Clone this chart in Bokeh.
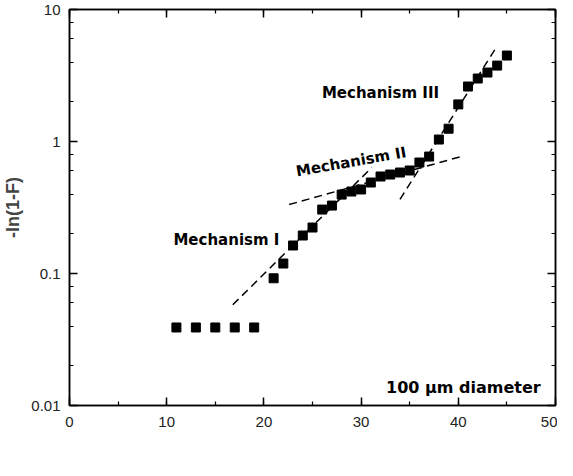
from bokeh.plotting import figure
from bokeh.models import (LinearAxis, LogAxis, SingleIntervalTicker, LogTicker, Label,
                          NumeralTickFormatter, Range1d, ColumnDataSource, CustomJSTickFormatter)
from bokeh.embed import file_html
from bokeh.resources import INLINE
import math

# ---- data ----
vg_v = [11, 13, 15, 17, 19, 21, 22, 23, 24, 25, 26, 27, 28, 29, 30, 31, 32, 33, 34, 35,
        36, 37, 38, 39, 40, 41, 42, 43, 44, 45]
ln_f = [0.039, 0.039, 0.039, 0.039, 0.039, 0.092, 0.119, 0.163, 0.194, 0.223, 0.305, 0.327,
        0.396, 0.418, 0.433, 0.489, 0.543, 0.562, 0.582, 0.603, 0.693, 0.769, 1.035, 1.25,
        1.91, 2.61, 3.0, 3.33, 3.76, 4.48]

fit1_x = [16.8, 31.1]
fit1_y = [0.058, 0.635]
fit2_x = [22.6, 40.3]
fit2_y = [0.333, 0.77]
fit3_x = [34.0, 43.9]
fit3_y = [0.364, 5.15]

x_ticks_interval = 10
x_lo, x_hi = 0, 50
y_lo, y_hi = 0.01, 10

# frame geometry (page pixels) used to place the free texts
FL, FR, FT, FB = 72, 563, 17, 413
PAGE = 8


def dx(px):
    return x_lo + (px - FL) / (FR - FL) * (x_hi - x_lo)


def dy(py):
    return 10 ** (math.log10(y_lo) + (FB - py) / (FB - FT) * (math.log10(y_hi) - math.log10(y_lo)))


W, H = 557, 460
p = figure(width=W, height=H, y_axis_type="log",
           x_range=Range1d(x_lo, x_hi), y_range=Range1d(y_lo, y_hi),
           output_backend="svg", toolbar_location=None,
           min_border_left=FL - PAGE, min_border_right=W - (FR - PAGE),
           min_border_top=FT - PAGE, min_border_bottom=H - (FB - PAGE))
p.grid.visible = False
p.outline_line_color = "black"
p.outline_line_width = 1.5
p.background_fill_color = "white"
p.border_fill_color = "white"

TICK_FONT = "Liberation Sans"
BOLD_FONT = "DejaVu Sans"

xa = p.xaxis[0]
xa.ticker = SingleIntervalTicker(interval=x_ticks_interval, num_minor_ticks=2)
ya = p.yaxis[0]
ya.ticker = LogTicker()
ya.formatter = NumeralTickFormatter(format="0.[00]")
ya.axis_label = "-ln(1-F)"
ya.axis_label_text_font = TICK_FONT
ya.axis_label_text_font_style = "bold"
ya.axis_label_text_font_size = "18px"
ya.axis_label_standoff = 5
for ax in (xa, ya):
    ax.major_tick_in = 8
    ax.major_tick_out = 0
    ax.minor_tick_in = 4
    ax.minor_tick_out = 0
    ax.axis_line_width = 1.5
    ax.major_tick_line_width = 1.5
    ax.minor_tick_line_width = 1.2
    ax.major_label_text_font = TICK_FONT
    ax.major_label_text_font_size = "15px"
    ax.major_label_text_color = "#222222"
    ax.major_label_standoff = 9
xa.major_label_standoff = 11

blank = CustomJSTickFormatter(code="return ''")
top = LinearAxis(ticker=SingleIntervalTicker(interval=x_ticks_interval, num_minor_ticks=2),
                 formatter=blank, major_label_text_font_size="1px", major_label_standoff=0)
right = LogAxis(ticker=LogTicker(), formatter=blank,
                major_label_text_font_size="1px", major_label_standoff=0)
for ax in (top, right):
    ax.major_tick_in = 8
    ax.major_tick_out = 0
    ax.minor_tick_in = 4
    ax.minor_tick_out = 0
    ax.axis_line_width = 1.5
    ax.major_tick_line_width = 1.5
    ax.minor_tick_line_width = 1.2
p.add_layout(top, "above")
p.add_layout(right, "right")

# fit lines
for fx, fy in ((fit1_x, fit1_y), (fit2_x, fit2_y), (fit3_x, fit3_y)):
    p.line(fx, fy, line_color="black", line_width=1.5, line_dash="8 5")

src = ColumnDataSource(dict(x=vg_v, y=ln_f))
p.scatter("x", "y", source=src, marker="square", size=9, fill_color="black", line_color="black")


# annotations
def lab(text, px, py, size, angle=0.0, align="left", font=BOLD_FONT, baseline="alphabetic"):
    p.add_layout(Label(x=dx(px), y=dy(py), text=text, text_font=font, text_font_style="bold",
                       text_font_size=size, text_color="black", angle=angle,
                       text_align=align, text_baseline=baseline))


lab("Mechanism I", 177, 247, "15px")
lab("Mechanism II", 301, 179, "15px", angle=math.radians(10))
lab("Mechanism III", 327, 100, "15px")
lab("100 µm diameter", 548, 395, "16px", align="right")

# x-axis title with subscripts
lab("V", 263, 452, "19px", font=TICK_FONT)
lab("G", 277, 456, "13px", font=TICK_FONT)
lab("-", 289, 452, "19px", font=TICK_FONT)
lab("V", 295, 452, "19px", font=TICK_FONT)
lab("USE", 309, 456, "13px", font=TICK_FONT)
lab(" (V)", 337, 452, "19px", font=TICK_FONT)

open("out.html", "w").write(file_html(p, INLINE))
